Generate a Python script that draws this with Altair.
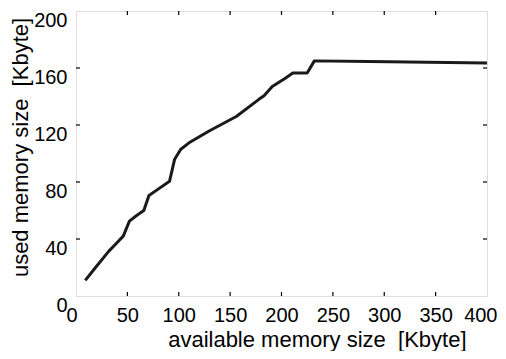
import altair as alt
import pandas as pd

# data
avail = [9, 19, 32, 38, 46, 52, 59, 66, 71, 80, 91, 96, 102, 110, 130, 156, 178,
         183, 191, 203, 211, 225, 232, 285, 400]
used = [11, 20, 31.5, 36, 42, 52.5, 56.5, 60, 70.5, 75, 80.5, 96, 103, 107.5, 116,
        126, 138, 140.5, 147, 152.5, 156.5, 156.5, 165, 164.5, 163.5]
x_ticks = [0, 50, 100, 150, 200, 250, 300, 350, 400]
y_ticks = [0, 40, 80, 120, 160, 200]
x_inner = [50, 100, 150, 200, 250, 300, 350]
y_inner = [40, 80, 120, 160]

W, H = 411, 285
FONT = "Liberation Sans"

df = pd.DataFrame({"x": avail, "y": used})
xt = pd.DataFrame({"t": x_inner})
yt = pd.DataFrame({"t": y_inner})

xscale = alt.Scale(domain=[0, 400], nice=False, zero=False)
yscale = alt.Scale(domain=[0, 200], nice=False, zero=False)

xaxis = alt.Axis(values=x_ticks, title="available memory size\u00a0\u00a0[Kbyte]",
                 grid=False, domain=False, ticks=False, tickSize=0,
                 labelFont=FONT, labelFontSize=20, labelColor="black",
                 labelPadding=9, labelFlush=True, labelFlushOffset=10,
                 labelOverlap=False,
                 titleFont=FONT, titleFontSize=22, titleFontWeight="normal",
                 titleColor="black", titleX=390, titleY=50, titleAlign="right",
                 titleBaseline="alphabetic")
yaxis = alt.Axis(values=y_ticks, title="used memory size\u00a0\u00a0[Kbyte]",
                 grid=False, domain=False, ticks=False, tickSize=0,
                 labelFont=FONT, labelFontSize=20, labelColor="black",
                 labelPadding=9, labelOffset=9, labelFlush=False, labelOverlap=False,
                 titleFont=FONT, titleFontSize=22, titleFontWeight="normal",
                 titleColor="black", titleX=-49, titleY=136, titleAngle=270,
                 titleAlign="center", titleBaseline="alphabetic")

line = alt.Chart(df).mark_line(color="#1a1a1a", strokeWidth=3, strokeJoin="round").encode(
    x=alt.X("x:Q", scale=xscale, axis=xaxis),
    y=alt.Y("y:Q", scale=yscale, axis=yaxis),
)

tick_style = dict(color="black", strokeWidth=1.2)
bottom = alt.Chart(xt).mark_rule(**tick_style).encode(
    x=alt.X("t:Q", scale=xscale), y=alt.value(H), y2=alt.value(H - 4))
top = alt.Chart(xt).mark_rule(**tick_style).encode(
    x=alt.X("t:Q", scale=xscale), y=alt.value(0), y2=alt.value(4))
left = alt.Chart(yt).mark_rule(**tick_style).encode(
    y=alt.Y("t:Q", scale=yscale), x=alt.value(0), x2=alt.value(4))
right = alt.Chart(yt).mark_rule(**tick_style).encode(
    y=alt.Y("t:Q", scale=yscale), x=alt.value(W), x2=alt.value(W - 4))

chart = alt.layer(bottom, top, left, right, line).properties(
    width=W, height=H,
    autosize=alt.AutoSizeParams(type="none"),
    padding={"left": 68, "top": 3, "right": 11, "bottom": 55},
).configure_view(stroke="black", strokeWidth=1.6).configure(background="white")

chart.save("out.html", embed_options={"renderer": "svg", "actions": False})
